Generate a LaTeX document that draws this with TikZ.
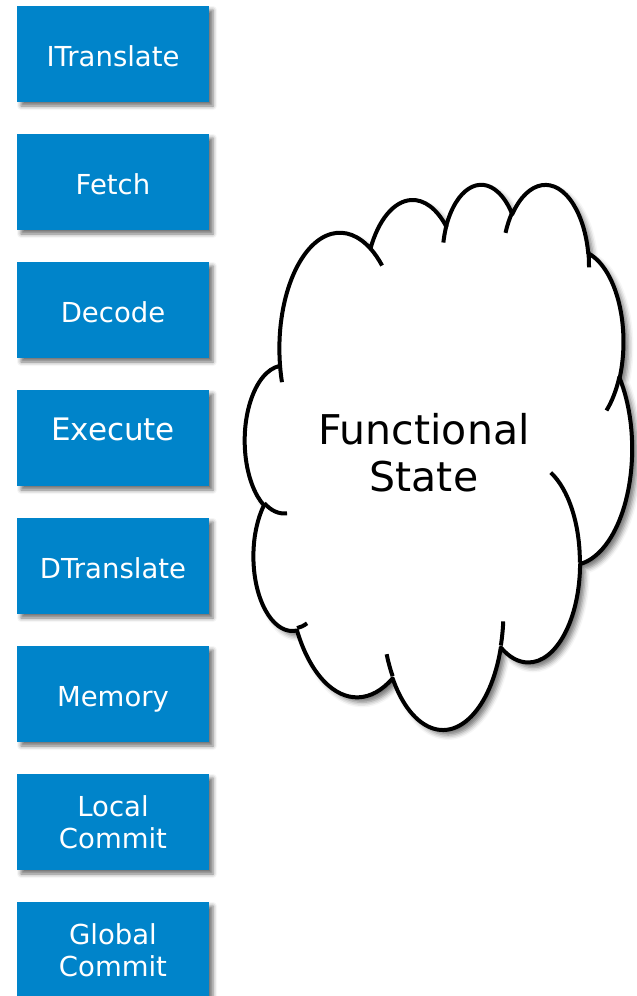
\documentclass[tikz,border=0pt]{standalone}
\usepackage{fontspec}
\setmainfont{DejaVu Sans}
\usetikzlibrary{shadows.blur}

\definecolor{stageblue}{RGB}{0,132,202}

% cloud frame: 1000 shape units -> pixels
\def\cx{8.9583}
\def\cy{12.6157}

\tikzset{
  stagebox/.style={
    fill=stageblue, draw=none, text=white,
    minimum width=192, minimum height=96, inner sep=0pt,
    align=center, font=\fontsize{27.5}{32.5}\selectfont,
    blur shadow={shadow xshift=4pt, shadow yshift=-4pt,
                 shadow blur radius=4pt, shadow opacity=55}},
  oneline/.style={text height=24pt, text depth=0pt},
  cloudline/.style={line width=4pt, line join=round, draw=black},
  % elliptical arc from the current point: radii (wR,hR), visual start angle, sweep
  cloud arc/.style n args={4}{insert path={
    arc[x radius={#1*\cx}, y radius={#2*\cy},
        start angle={-atan2(#1*sin(#3), #2*cos(#3))},
        delta angle={-mod(atan2(#1*sin(#3+#4), #2*cos(#3+#4))
                         - atan2(#1*sin(#3), #2*cos(#3)) + 720, 360)}]}},
}

\begin{document}
\begin{tikzpicture}[x=1pt, y=1pt]
\useasboundingbox (0,0) rectangle (637,-996);

% pipeline stages
\node[stagebox, oneline] (itranslate) at (113,-54)  {ITranslate};
\node[stagebox, oneline] (fetch)      at (113,-182) {Fetch};
\node[stagebox, oneline] (decode)     at (113,-310) {Decode};
\node[stagebox, font=\fontsize{31}{35}\selectfont,
      text height=24pt, text depth=20pt] (execute) at (113,-438) {Execute};
\node[stagebox, oneline] (dtranslate) at (113,-566) {DTranslate};
\node[stagebox, oneline] (memory)     at (113,-694) {Memory};
\node[stagebox] (localc)     at (113,-822) {Local\\Commit};
\node[stagebox] (globalc)    at (113,-950) {Global\\Commit};

% cloud
\begin{scope}[shift={(245,-183)}]
\draw[cloudline, fill=white,
      blur shadow={shadow xshift=5pt, shadow yshift=-5pt,
                   shadow blur radius=5pt, shadow opacity=55}]
  ({3.9*\cx},{-14.37*\cy})
  [cloud arc={6.753}{9.190}{-190.4875}{123.7805}]
  [cloud arc={5.333}{7.267}{-144.1024}{89.9452}]
  [cloud arc={4.365}{5.945}{-145.8079}{99.7230}]
  [cloud arc={4.857}{6.595}{-130.9861}{117.2417}]
  [cloud arc={5.333}{7.273}{-78.7089}{109.0269}]
  [cloud arc={6.775}{9.220}{-46.2673}{130.2690}]
  [cloud arc={5.785}{7.867}{0.6250}{114.0333}]
  [cloud arc={6.752}{9.215}{22.4516}{115.1726}]
  [cloud arc={7.720}{10.543}{66.2426}{75.7110}]
  [cloud arc={4.360}{5.918}{-274.9421}{146.7356}]
  [cloud arc={4.345}{5.945}{-246.8285}{152.5189}]
  -- cycle;

% inner lobe strokes
\draw[cloudline]
  ({4.693*\cx},{-26.177*\cy})  [cloud arc={4.345}{5.945}{86.742}{26.4295}]
  ({6.928*\cx},{-34.899*\cy})  [cloud arc={4.360}{5.918}{73.6105}{11.4475}]
  ({16.478*\cx},{-39.090*\cy}) [cloud arc={6.752}{9.215}{137.6242}{14.0811}]
  ({28.827*\cx},{-34.751*\cy}) [cloud arc={6.752}{9.215}{6.4533}{15.9984}]
  ({34.129*\cx},{-22.954*\cy}) [cloud arc={5.785}{7.867}{-70.2924}{70.9174}]
  ({41.798*\cx},{-15.354*\cy}) [cloud arc={5.333}{7.273}{30.3180}{27.7515}]
  ({38.324*\cx},{-5.426*\cy})  [cloud arc={4.857}{6.595}{-13.7443}{14.8589}]
  ({29.078*\cx},{-3.952*\cy})  [cloud arc={4.857}{6.595}{-149.1815}{18.1954}]
  ({22.141*\cx},{-4.720*\cy})  [cloud arc={4.365}{5.945}{-163.4943}{17.6864}]
  ({14.000*\cx},{-5.192*\cy})  [cloud arc={6.753}{9.190}{-66.7070}{12.3194}]
  ({4.127*\cx},{-15.789*\cy})  [cloud arc={6.753}{9.190}{157.6544}{11.8582}];
\end{scope}

\node[align=center, font=\fontsize{41}{47}\selectfont] (state) at (424,-453)
  {Functional\\State};
\end{tikzpicture}
\end{document}
